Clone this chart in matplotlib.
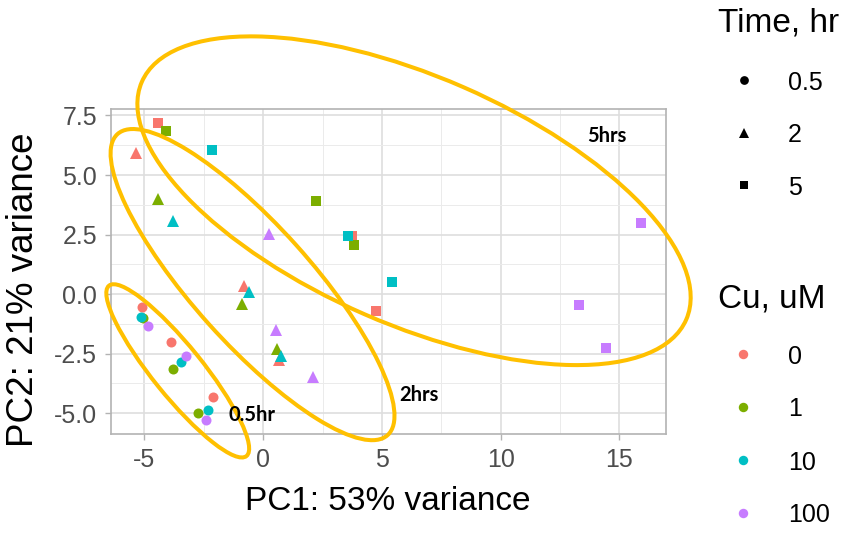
import matplotlib
matplotlib.use('Agg')
import matplotlib.pyplot as plt
from matplotlib.patches import Ellipse
from matplotlib.lines import Line2D

plt.rcParams['axes.unicode_minus'] = False
plt.rcParams['font.family'] = ['Liberation Sans', 'DejaVu Sans']

# ---------------- data ----------------
cu_levels = ['0', '1', '10', '100']
time_levels = ['0.5', '2', '5']
cu_colors = ['#F8766D', '#7CAE00', '#00BFC4', '#C77CFF']
time_markers = ['o', '^', 's']
time_msize = [7.2, 9.0, 6.6]

sample_cu = ['0'] * 9 + ['1'] * 9 + ['10'] * 9 + ['100'] * 9
sample_time = (['0.5'] * 3 + ['2'] * 3 + ['5'] * 3) * 4
pc1 = [-5.12, -3.87, -2.11, -5.36, -0.80, 0.65, -4.45, 3.72, 4.75,
       -5.08, -3.79, -2.74, -4.45, -0.88, 0.56, -4.10, 2.23, 3.82,
       -5.16, -3.45, -2.34, -3.79, -0.59, 0.75, -2.16, 3.55, 5.41,
       -4.87, -3.27, -2.40, 0.24, 0.55, 2.08, 15.92, 13.29, 14.43]
pc2 = [-0.52, -1.99, -4.30, 5.92, 0.35, -2.76, 7.18, 2.42, -0.69,
       -1.01, -3.15, -5.00, 4.00, -0.41, -2.30, 6.86, 3.92, 2.07,
       -0.94, -2.84, -4.86, 3.09, 0.07, -2.58, 6.06, 2.42, 0.49,
       -1.33, -2.59, -5.28, 2.52, -1.50, -3.46, 2.98, -0.46, -2.24]

x_ticks = [-5, 0, 5, 10, 15]
x_ticklabels = ['-5', '0', '5', '10', '15']
y_ticks = [-5.0, -2.5, 0.0, 2.5, 5.0, 7.5]
y_ticklabels = ['-5.0', '-2.5', '0.0', '2.5', '5.0', '7.5']

# annotation ellipses (hand-drawn groups)
ell_labels = ['5hrs', '2hrs', '0.5hr']
ell_centers = [(6.35, 3.92), (-0.45, 0.40), (-3.60, -3.22)]
ell_widths = [25.0, 17.0, 9.2]
ell_heights = [10.4, 4.95, 2.1]
ell_angles = [-23.5, -48.0, -51.0]
label_pos = [(14.46, 6.62), (6.57, -4.23), (-0.49, -5.07)]

# ---------------- figure ----------------
W, H = 851, 533
fig = plt.figure(figsize=(W / 100, H / 100), dpi=100)
ax = fig.add_axes([111 / W, 1 - 434 / H, 555 / W, 325 / H])
ax.set_xlim(-6.41, 16.96)
ax.set_ylim(-5.87, 7.77)

ax.set_facecolor('white')
for s in ax.spines.values():
    s.set_color('#B3B3B3')
    s.set_linewidth(1.2)

ax.set_xticks(x_ticks)
ax.set_xticklabels(x_ticklabels)
ax.set_yticks(y_ticks)
ax.set_yticklabels(y_ticklabels)
ax.set_xticks([-2.5, 2.5, 7.5, 12.5], minor=True)
ax.set_yticks([-3.75, -1.25, 1.25, 3.75, 6.25], minor=True)
ax.tick_params(which='major', length=4, width=1, color='#B3B3B3',
               labelsize=18, labelcolor='#4D4D4D', pad=6)
ax.tick_params(which='minor', length=0)
ax.grid(which='major', color='#DEDEDE', linewidth=1.2)
ax.grid(which='minor', color='#EBEBEB', linewidth=0.7)
ax.set_axisbelow(True)

for ci, cu in enumerate(cu_levels):
    for ti, t in enumerate(time_levels):
        xs = [pc1[i] for i in range(len(pc1)) if sample_cu[i] == cu and sample_time[i] == t]
        ys = [pc2[i] for i in range(len(pc2)) if sample_cu[i] == cu and sample_time[i] == t]
        ax.plot(xs, ys, linestyle='none', marker=time_markers[ti],
                markersize=time_msize[ti], color=cu_colors[ci],
                markeredgewidth=0, zorder=3)

gold = '#FFC000'
for c, w, h, a in zip(ell_centers, ell_widths, ell_heights, ell_angles):
    e = Ellipse(c, w, h, angle=a, fill=False, edgecolor=gold,
                linewidth=2.9, clip_on=False, zorder=5)
    ax.add_patch(e)
for lab, (lx, ly) in zip(ell_labels, label_pos):
    ax.text(lx, ly, lab, ha='center', va='center', fontsize=14.5,
            fontweight='bold', family=['Lato', 'DejaVu Sans'], color='black', zorder=6)

# axis titles
fig.text(387.5 / W, 1 - 510 / H, 'PC1: 53% variance', ha='center', va='baseline',
         fontsize=24, color='black')
fig.text(33 / W, 1 - 289.7 / H, 'PC2: 21% variance', ha='center', va='baseline',
         rotation=90, rotation_mode='anchor', fontsize=26.5, color='black')

# legends (drawn manually)
def fx(px):
    return px / W

def fy(py):
    return 1 - py / H

fig.text(fx(718), fy(31.7), 'Time, hr', ha='left', va='baseline', fontsize=24)
leg_time_ms = [6.3, 7.4, 5.9]
for i, t in enumerate(time_levels):
    cy = 80 + 52.5 * i
    fig.add_artist(Line2D([fx(744)], [fy(cy)], marker=time_markers[i], color='black',
                          markersize=leg_time_ms[i], markeredgewidth=0,
                          linestyle='none', transform=fig.transFigure))
    fig.text(fx(788), fy(cy + 10), t, ha='left', va='baseline', fontsize=18)

fig.text(fx(718), fy(308), 'Cu, uM', ha='left', va='baseline', fontsize=24)
for i, cu in enumerate(cu_levels):
    cy = 354 + 53 * i
    fig.add_artist(Line2D([fx(743)], [fy(cy)], marker='o', color=cu_colors[i],
                          markersize=6.8, markeredgewidth=0,
                          linestyle='none', transform=fig.transFigure))
    fig.text(fx(788), fy(cy + 9.5), cu, ha='left', va='baseline', fontsize=18)

fig.savefig('out.png', dpi=100, facecolor='white')
